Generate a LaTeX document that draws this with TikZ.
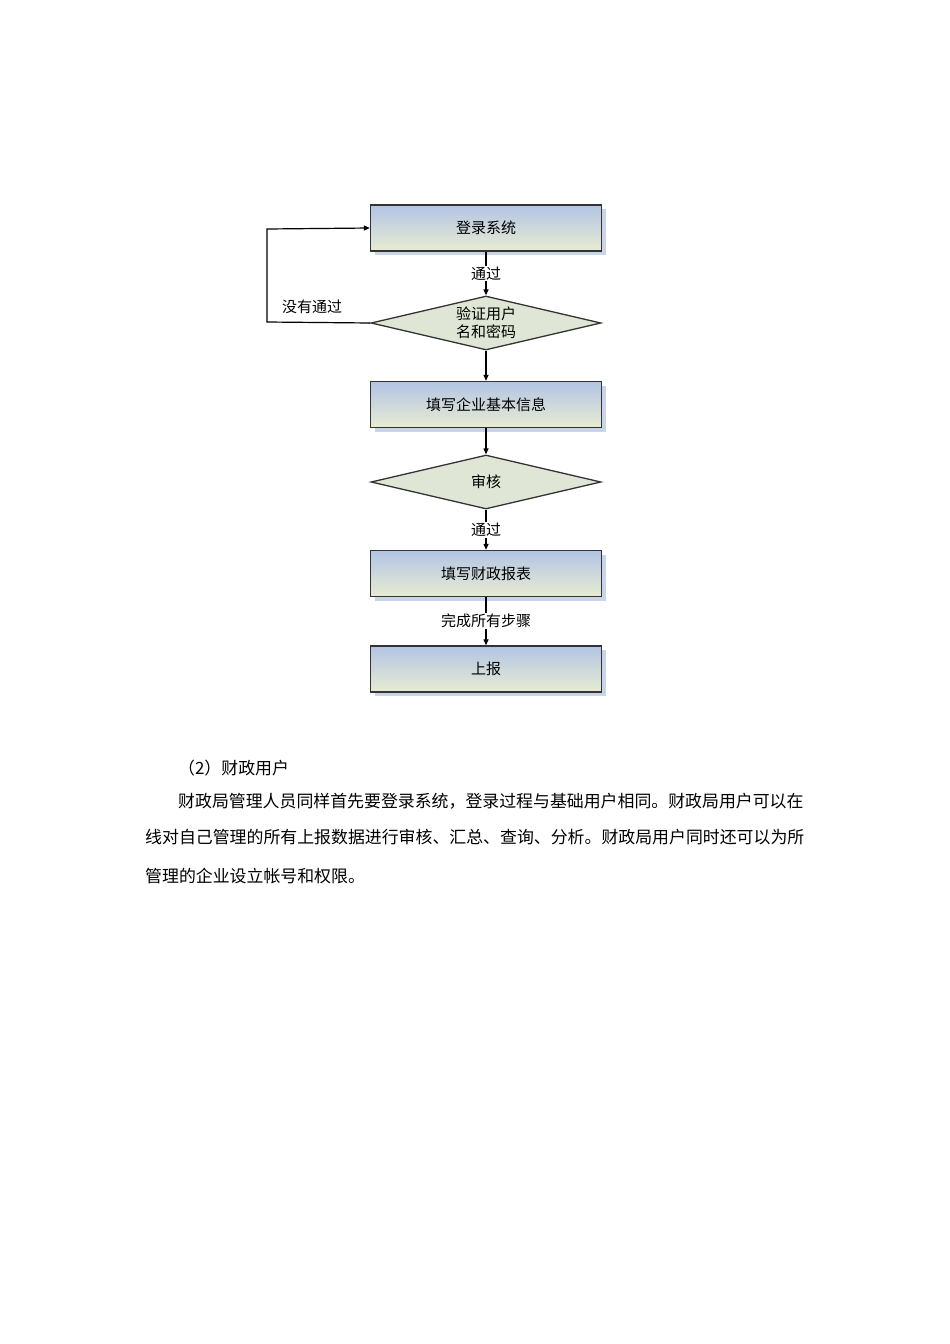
\documentclass[tikz,border=0pt]{standalone}
\usepackage{fontspec}
\setmainfont{Noto Sans CJK SC}
\usetikzlibrary{shapes.geometric,arrows.meta}
\definecolor{sh}{RGB}{200,212,232}
\definecolor{gA}{RGB}{178,196,228}
\definecolor{gB}{RGB}{232,236,210}
\tikzset{
 box/.style={draw=black!80,line width=1.3pt,minimum width=231pt,minimum height=46pt,
   left color=gA,right color=gB,shading angle=0,font=\fontsize{15}{18}\selectfont,
   drop shadow={shadow xshift=4pt,shadow yshift=-4pt,fill=sh,opacity=1}},
 dia/.style={draw=black!80,line width=1.3pt,diamond,aspect=4.26,inner sep=0pt,
   minimum width=230pt,minimum height=54pt,fill=gB!85!gA,font=\fontsize{15}{18}\selectfont,align=center},
 arr/.style={-{Triangle[length=6pt,width=5pt]},line width=1.2pt},
 lab/.style={font=\fontsize{15}{18}\selectfont,fill=white,inner sep=1pt},
 para/.style={anchor=west,inner sep=0pt,font=\fontsize{16.9}{20}\selectfont}
}
\usetikzlibrary{shadows}
\begin{document}
\begin{tikzpicture}[x=1pt,y=-1pt]
\useasboundingbox (0,0) rectangle (950,1344);
\node[box] (b1) at (486,228) {登录系统};
\node[dia] (d1) at (486,323) {验证用户\\名和密码};
\node[box] (b2) at (486,404.5) {填写企业基本信息};
\node[dia] (d2) at (486,482) {审核};
\node[box] (b3) at (486,573.5) {填写财政报表};
\node[box] (b4) at (486,669) {上报};
\draw[arr] (b1) -- (d1) node[lab,midway] {通过};
\draw[arr] (d1) -- (b2);
\draw[arr] (b2) -- (d2);
\draw[arr] (d2) -- (b3) node[lab,midway] {通过};
\draw[arr] (b3) -- (b4) node[lab,midway] {完成所有步骤};
\coordinate (c1) at (267,322);
\coordinate (c2) at (267,229);
\draw[arr] (d1.west) -- (c1) -- (c2) -- (b1.west);
\node[font=\fontsize{15}{18}\selectfont] (l1) at (312,307) {没有通过};
\node[para] (p0) at (178,768) {（2）财政用户};
\node[para] (p1) at (178,801) {财政局管理人员同样首先要登录系统，登录过程与基础用户相同。财政局用户可以在};
\node[para] (p2) at (145,837) {线对自己管理的所有上报数据进行审核、汇总、查询、分析。财政局用户同时还可以为所};
\node[para] (p3) at (145,876) {管理的企业设立帐号和权限。};
\end{tikzpicture}
\end{document}
